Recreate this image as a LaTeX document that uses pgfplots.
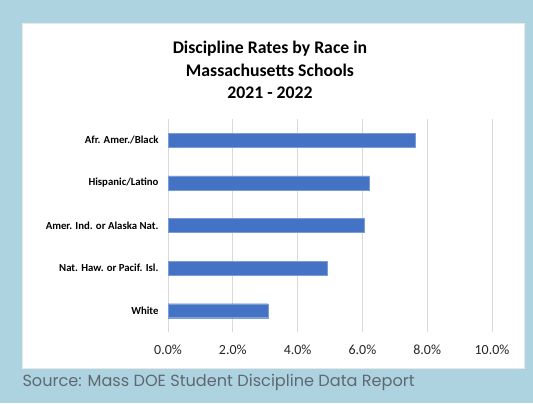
\documentclass[border=0pt]{standalone}
\usepackage{pgfplots}
\pgfplotsset{compat=1.18}
\usepackage{fontspec}
\setmainfont{Carlito}
\newfontfamily\srcfont{Poppins}
\definecolor{bgblue}{RGB}{174,211,224}
\definecolor{barblue}{RGB}{68,114,196}
\definecolor{gridgray}{RGB}{217,217,217}
\definecolor{srcgray}{RGB}{95,104,112}
\begin{document}
\begin{tikzpicture}[x=1bp,y=1bp]
\fill[bgblue] (0,0) rectangle (533,403);
\fill[white] (22,35) rectangle (524,380);
\draw[gridgray!60, line width=0.4bp] (22,35) rectangle (524,380);
\node[align=center, font=\fontsize{17.8}{22.5}\selectfont\bfseries] at (270,333)
  {Discipline Rates by Race in\\Massachusetts Schools\\2021 - 2022};
\begin{axis}[
  at={(168bp,71bp)}, anchor=south west,
  scale only axis, width=324bp, height=213bp,
  xmin=0, xmax=10, ymin=-0.5, ymax=4.5,
  xbar, bar width=14bp,
  axis line style={draw=none},
  major tick length=0pt,
  xtick={0,2,4,6,8,10},
  xticklabels={0.0\%,2.0\%,4.0\%,6.0\%,8.0\%,10.0\%},
  ytick={0,1,2,3,4},
  yticklabels={White,Nat. Haw. or Pacif. Isl.,Amer. Ind. or Alaska Nat.,Hispanic/Latino,Afr. Amer./Black},
  xmajorgrids, major grid style={gridgray, line width=0.8bp},
  xticklabel style={font=\fontsize{14}{16}\selectfont, text=black!85, yshift=-9bp},
  yticklabel style={font=\fontsize{10.8}{13}\selectfont\bfseries, text=black, xshift=-6bp},
  /pgf/number format/assume math mode=true,
]
\addplot[fill=barblue, draw=barblue!70!white, line width=0.4bp] coordinates {
  (3.08,0) (4.92,1) (6.06,2) (6.22,3) (7.62,4)
};
\end{axis}
\node[anchor=west, font=\srcfont\fontsize{16.2}{18}\selectfont, text=srcgray] at (19,21) {Source: Mass DOE Student Discipline Data Report};
\end{tikzpicture}
\end{document}
